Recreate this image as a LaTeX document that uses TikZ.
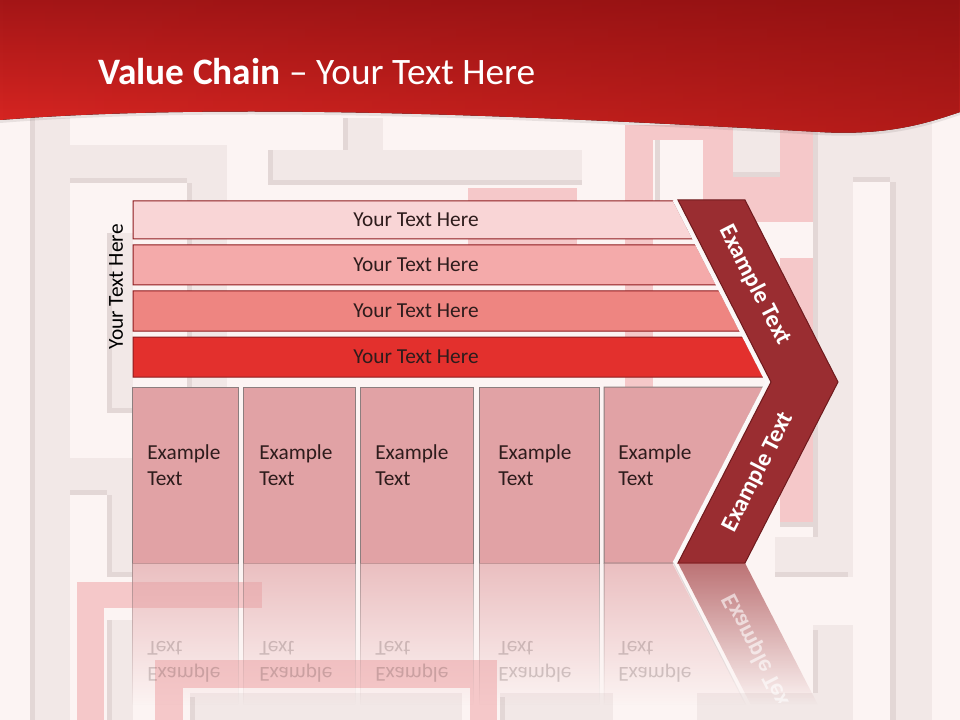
\documentclass[tikz,border=0pt]{standalone}
\usepackage{fontspec}
\setmainfont{Carlito}
\usetikzlibrary{fadings}

\definecolor{pagebg}{HTML}{FCF4F3}
\definecolor{wallgray}{HTML}{F2E8E7}
\definecolor{wallshade}{HTML}{E3D7D6}
\definecolor{wallpink}{HTML}{F5C8C9}
\definecolor{hdrlight}{HTML}{DC2723}
\definecolor{hdrtop}{HTML}{A41617}
\definecolor{hdrdark}{HTML}{7E0C0C}
\definecolor{barone}{HTML}{F9D5D6}
\definecolor{bartwo}{HTML}{F4AAAA}
\definecolor{barthree}{HTML}{EE8581}
\definecolor{barfour}{HTML}{E3302D}
\definecolor{barline}{HTML}{8E1B1E}
\definecolor{colfill}{HTML}{E1A2A5}
\definecolor{colline}{HTML}{8C7E7E}
\definecolor{chevfill}{HTML}{9A2D31}
\definecolor{chevline}{HTML}{6E1A1D}
\definecolor{inktext}{HTML}{2E1C1C}

\tikzfading[name=reflfade, top color=transparent!35, bottom color=transparent!100]
\tikzfading[name=hdrside, left color=transparent!100, right color=transparent!55]

\begin{document}
\begin{tikzpicture}[x=0.75pt, y=-0.75pt,
		wall/.style={fill=wallgray},
		wallsh/.style={fill=wallshade},
		pinkwall/.style={fill=wallpink},
		bar/.style={draw=barline, line width=0.75pt},
		column/.style={fill=colfill, draw=colline, line width=0.75pt},
		reflect/.style={path fading=reflfade},
		bartext/.style={text=inktext, font=\fontsize{16}{19.5}\selectfont, inner sep=0pt},
		coltext/.style={text=inktext, font=\fontsize{16}{19.5}\selectfont, inner sep=0pt, align=left, anchor=base west},
		chevtext/.style={text=white, font=\bfseries\fontsize{18}{22}\selectfont, inner sep=0pt}]
		\useasboundingbox (0,0) rectangle (960,720);
		\fill [pagebg] (0,0) rectangle (960,720);
		% maze in the background
		\fill [wall] (30,118) rectangle (70,720);
		\fill [wallsh] (30,118) rectangle (35,720);
		\fill [wall] (70,145) rectangle (227,183);
		\fill [wall] (187,183) rectangle (227,420);
		\fill [wallsh] (70,178) rectangle (187,183);
		\fill [wallsh] (187,183) rectangle (192,420);
		\fill [wall] (343,118) rectangle (383,150);
		\fill [wallsh] (343,118) rectangle (348,150);
		\fill [wall] (268,150) rectangle (582,185);
		\fill [wallsh] (268,150) rectangle (273,185);
		\fill [wallsh] (273,180) rectangle (582,185);
		\fill [wall] (107,233) rectangle (133,413);
		\fill [wallsh] (107,233) rectangle (112,413);
		\fill [wallsh] (112,408) rectangle (133,413);
		\fill [wall] (70,458) rectangle (140,495);
		\fill [wallsh] (70,490) rectangle (107,495);
		\fill [wall] (107,495) rectangle (133,577);
		\fill [wallsh] (107,495) rectangle (112,577);
		\fill [wallsh] (112,572) rectangle (133,577);
		\fill [wall] (107,620) rectangle (133,720);
		\fill [wallsh] (107,620) rectangle (112,720);
		\fill [wall] (813,118) rectangle (853,577);
		\fill [wallsh] (813,118) rectangle (818,577);
		\fill [wall] (775,537) rectangle (853,577);
		\fill [wallsh] (775,572) rectangle (848,577);
		\fill [wall] (853,130) rectangle (932,182);
		\fill [wallsh] (853,177) rectangle (890,182);
		\fill [wall] (890,118) rectangle (932,720);
		\fill [wallsh] (890,182) rectangle (896,720);
		\fill [wall] (813,625) rectangle (853,720);
		\fill [wallsh] (813,630) rectangle (818,720);
		\fill [wall] (697,693) rectangle (853,720);
		\fill [wall] (500,693) rectangle (613,720);
		\fill [wallsh] (500,697) rectangle (505,720);
		\fill [pinkwall] (625,125) rectangle (653,400);
		\fill [pinkwall] (653,125) rectangle (703,140);
		\fill [wallsh] (655,140) rectangle (660,222);
		\fill [pinkwall] (703,125) rectangle (733,222);
		\fill [pinkwall] (733,177) rectangle (813,222);
		\fill [pinkwall] (780,125) rectangle (813,177);
		\fill [wall] (733,125) rectangle (780,177);
		\fill [wallsh] (733,172) rectangle (780,177);
		\fill [pinkwall] (780,258) rectangle (813,527);
		\fill [wallsh] (780,522) rectangle (813,527);
		\fill [pinkwall] (468,188) rectangle (577,260);
		\fill [pinkwall] (77,582) rectangle (104,720);
		\fill [pinkwall] (104,582) rectangle (262,608);
		\fill [pinkwall] (155,660) rectangle (497,720);
		\fill [pagebg] (183,688) rectangle (470,720);
		\fill [wall] (190,693) rectangle (462,720);
		\fill [wallsh] (190,697) rectangle (195,720);
		% header
		\fill [black, opacity=0.08] (0,123) .. controls (250,103) and (600,123) .. (820,135) .. controls (890,139) and (930,125) .. (960,115) -- (960,100) -- (0,100) -- cycle;
		\fill [top color=hdrtop, bottom color=hdrlight] (0,0) -- (960,0) -- (960,112) .. controls (930,122) and (890,136) .. (820,132) .. controls (600,120) and (250,100) .. (0,120) -- cycle;
		\fill [hdrdark, path fading=hdrside] (0,0) -- (960,0) -- (960,112) .. controls (930,122) and (890,136) .. (820,132) .. controls (600,120) and (250,100) .. (0,120) -- cycle;
		\node [anchor=base west, text=white, font=\fontsize{28}{34}\selectfont, inner sep=0pt] (title) at (98,85) {\textbf{Value Chain} – Your Text Here};
		% rows
		\draw [bar, fill=barone] (133,201) -- (673.5,201) -- (692.9,239) -- (133,239) -- cycle;
		\draw [bar, fill=bartwo] (133,245) -- (696,245) -- (716.4,285) -- (133,285) -- cycle;
		\draw [bar, fill=barthree] (133,291) -- (719.5,291) -- (739.9,331) -- (133,331) -- cycle;
		\draw [bar, fill=barfour] (133,337) -- (743,337) -- (763.4,377) -- (133,377) -- cycle;
		\node [bartext] (row1) at (416,220) {Your Text Here};
		\node [bartext] (row2) at (416,265) {Your Text Here};
		\node [bartext] (row3) at (416,311) {Your Text Here};
		\node [bartext] (row4) at (416,357) {Your Text Here};
		\node [bartext, text=black, rotate=90] (side) at (116,287) {Your Text Here};
		% columns
		\draw [column] (132,387) rectangle (238,563);
		\draw [column] (243,387) rectangle (355,563);
		\draw [column] (360,387) rectangle (473,563);
		\draw [column] (479,387) rectangle (599,563);
		\draw [column] (604,387) -- (763.4,387) -- (673.5,563) -- (604,563) -- cycle;
		\node [coltext] (col1) at (147,485) {Example\\Text};
		\node [coltext] (col2) at (259,485) {Example\\Text};
		\node [coltext] (col3) at (375,485) {Example\\Text};
		\node [coltext] (col4) at (498,485) {Example\\Text};
		\node [coltext] (col5) at (618,485) {Example\\Text};
		% chevron
		\draw [color=white!85!wallshade, line width=2.25pt] (674,200) -- (767,382) -- (674,563);
		\draw [fill=chevfill, draw=chevline, line width=0.75pt] (678,200) -- (745,200) -- (838,382) -- (745,563) -- (678,563) -- (771,382) -- cycle;
		\node [chevtext, rotate=-62.9] (chevup) at (755,285) {Example Text};
		\node [chevtext, rotate=62.9] (chevdown) at (758,472) {Example Text};
		% reflection
		\begin{scope}
		\clip (0,563) rectangle (960,720);
		\draw [column, reflect] (132,563) rectangle (238,705);
		\draw [column, reflect] (243,563) rectangle (355,705);
		\draw [column, reflect] (360,563) rectangle (473,705);
		\draw [column, reflect] (479,563) rectangle (599,705);
		\draw [column, reflect] (604,563) -- (673.5,563) -- (746,705) -- (604,705) -- cycle;
		\draw [color=white, line width=2.25pt, reflect] (674,563) -- (747,705);
		\fill [chevfill, reflect] (678,563) -- (745,563) -- (818,705) -- (751,705) -- cycle;
		\node [coltext, yscale=-1, text opacity=0.2] (mir1) at (147,641) {Example\\Text};
		\node [coltext, yscale=-1, text opacity=0.2] (mir2) at (259,641) {Example\\Text};
		\node [coltext, yscale=-1, text opacity=0.2] (mir3) at (375,641) {Example\\Text};
		\node [coltext, yscale=-1, text opacity=0.2] (mir4) at (498,641) {Example\\Text};
		\node [coltext, yscale=-1, text opacity=0.2] (mir5) at (618,641) {Example\\Text};
		\clip (0,563) rectangle (960,702);
		\node [chevtext, yscale=-1, rotate=62.9, text opacity=0.6] (mirchev) at (758,654) {Example Text};
		\end{scope}
\end{tikzpicture}
\end{document}
